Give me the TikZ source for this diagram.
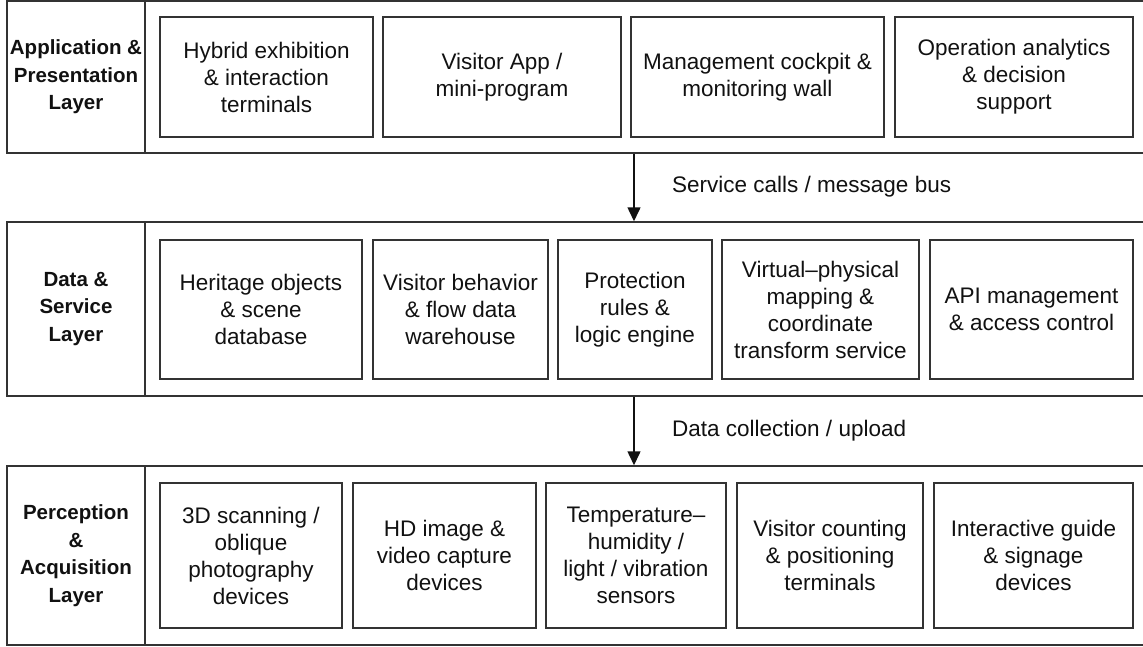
\documentclass[tikz,border=0pt]{standalone}
\usepackage{fontspec}
\setmainfont{Liberation Sans}
\usetikzlibrary{arrows.meta}
\definecolor{linec}{HTML}{333333}
\definecolor{textc}{HTML}{111111}
\tikzset{
  layerframe/.style={draw=linec, line width=1.5pt, rectangle, inner sep=0pt},
  compbox/.style={draw=linec, line width=1.5pt, rectangle, inner sep=0pt, align=center, text=textc, font=\fontsize{22.5}{27}\selectfont},
  layerlabel/.style={align=center, text=textc, font=\bfseries\fontsize{20.5}{27.5}\selectfont, inner sep=0pt},
  flowarrow/.style={draw=textc, line width=1.5pt, -{Triangle[width=13pt,length=14pt]}},
  flowlabel/.style={anchor=west, text=textc, font=\fontsize{22.5}{27}\selectfont, inner sep=0pt}
}
\begin{document}
\begin{tikzpicture}[x=1pt,y=-1pt]
\useasboundingbox (0,0) rectangle (1143,646);
% layer frames (right border lies beyond the picture edge)
\node[layerframe, minimum width=1163pt, minimum height=152pt] (L1) at (588.5,77) {};
\node[layerframe, minimum width=1163pt, minimum height=174pt] (L2) at (588.5,309) {};
\node[layerframe, minimum width=1163pt, minimum height=179pt] (L3) at (588.5,555.5) {};
\coordinate (dv) at (145,0);
\draw[draw=linec, line width=1.5pt] (L1.north -| dv) -- (L1.south -| dv);
\draw[draw=linec, line width=1.5pt] (L2.north -| dv) -- (L2.south -| dv);
\draw[draw=linec, line width=1.5pt] (L3.north -| dv) -- (L3.south -| dv);
% layer labels
\node[layerlabel] (T1) at (76,77) {Application \&\\Presentation\\Layer};
\node[layerlabel] (T2) at (76,309) {Data \&\\Service\\Layer};
\node[layerlabel] (T3) at (76,555.5) {Perception\\\&\\Acquisition\\Layer};
% application layer
\node[compbox, minimum width=213pt, minimum height=120pt] (A1) at (266.5,77) {Hybrid exhibition\\\& interaction\\terminals};
\node[compbox, minimum width=238pt, minimum height=120pt] (A2) at (502,77) {Visitor App /\\mini-program};
\node[compbox, minimum width=253pt, minimum height=120pt] (A3) at (757.5,77) {Management cockpit \&\\monitoring wall};
\node[compbox, minimum width=238pt, minimum height=120pt] (A4) at (1014,77) {Operation analytics\\\& decision\\support};
% data & service layer
\node[compbox, minimum width=202pt, minimum height=139pt] (D1) at (261,309.5) {Heritage objects\\\& scene\\database};
\node[compbox, minimum width=175pt, minimum height=139pt] (D2) at (460.5,309.5) {Visitor behavior\\\& flow data\\warehouse};
\node[compbox, minimum width=154pt, minimum height=139pt] (D3) at (635,309.5) {Protection\\rules \&\\logic engine};
\node[compbox, minimum width=197pt, minimum height=139pt] (D4) at (820.5,309.5) {Virtual–physical\\mapping \&\\coordinate\\transform service};
\node[compbox, minimum width=203pt, minimum height=139pt] (D5) at (1031.5,309.5) {API management\\\& access control};
% perception layer
\node[compbox, minimum width=182pt, minimum height=145pt] (P1) at (251,555.5) {3D scanning /\\oblique\\photography\\devices};
\node[compbox, minimum width=183pt, minimum height=145pt] (P2) at (444.5,555.5) {HD image \&\\video capture\\devices};
\node[compbox, minimum width=180pt, minimum height=145pt] (P3) at (636,555.5) {Temperature–\\humidity /\\light / vibration\\sensors};
\node[compbox, minimum width=186pt, minimum height=145pt] (P4) at (830,555.5) {Visitor counting\\\& positioning\\terminals};
\node[compbox, minimum width=199pt, minimum height=145pt] (P5) at (1033.5,555.5) {Interactive guide\\\& signage\\devices};
% arrows between layers
\coordinate (ax) at (634,0);
\draw[flowarrow] (L1.south -| ax) -- (L2.north -| ax);
\draw[flowarrow] (L2.south -| ax) -- (L3.north -| ax);
\node[flowlabel] (F1) at (672,187) {Service calls / message bus};
\node[flowlabel] (F2) at (672,431) {Data collection / upload};
\end{tikzpicture}
\end{document}
